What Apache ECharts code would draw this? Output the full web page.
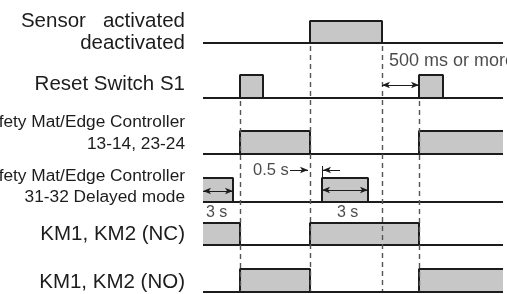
<!DOCTYPE html>
<html>
<head>
<meta charset="utf-8">
<script src="https://cdn.jsdelivr.net/npm/echarts@6/dist/echarts.min.js"></script>
<style>
  html, body { margin: 0; padding: 0; background: #fff; }
  #timing { width: 507px; height: 294px; }
</style>
</head>
<body>
<div id="timing"></div>
<script>
// time runs 0..300 (arbitrary units across the signal area)
var tEnd = 300;
var sensorOn = [[107, 179]];
var resetOn = [[37, 60], [216, 240]];
var ctrlOn = [[37, 107], [216, 300]];
var delayedOn = [[0, 30], [119, 165]];
var ncOn = [[0, 37], [107, 216]];
var noOn = [[37, 107], [216, 300]];
var edgeTimes = [37, 107, 179, 216];
var edgeFrom = ['reset', 'sensor', 'sensor', 'reset'];

// lane layout (baseline / high level on the vertical axis)
var lanes = {
    sensor: { base: 43, top: 21 },
    reset: { base: 98, top: 75 },
    ctrl: { base: 154, top: 131 },
    delayed: { base: 202, top: 178 },
    nc: { base: 245, top: 223 },
    no: { base: 292, top: 269 }
};

var ink = '#1c1c1c';
var fill = '#c7c7c7';
var fontFam = '"Liberation Sans", Arial, sans-serif';

function steps(on, lane) {
    var pts = [];
    if (on[0][0] > 0) pts.push([0, lane.base]);
    on.forEach(function (iv) {
        if (iv[0] > 0) pts.push([iv[0], lane.base]);
        pts.push([iv[0], lane.top]);
        pts.push([iv[1], lane.top]);
        if (iv[1] < tEnd) pts.push([iv[1], lane.base]);
    });
    if (on[on.length - 1][1] < tEnd) pts.push([tEnd, lane.base]);
    return pts;
}

function laneSeries(on, lane) {
    return [{
        type: 'line',
        data: steps(on, lane),
        symbol: 'none',
        clip: false,
        lineStyle: { color: ink, width: 2 },
        areaStyle: { color: fill, opacity: 1, origin: lane.base },
        z: 2
    }, {
        type: 'line',
        data: [[0, lane.base], [tEnd, lane.base]],
        symbol: 'none',
        clip: false,
        lineStyle: { color: ink, width: 2 },
        z: 3
    }];
}

var series = [];
[[sensorOn, 'sensor'], [resetOn, 'reset'], [ctrlOn, 'ctrl'], [delayedOn, 'delayed'], [ncOn, 'nc'], [noOn, 'no']]
    .forEach(function (r) { series = series.concat(laneSeries(r[0], lanes[r[1]])); });

// dashed guide lines
series.push({
    type: 'line',
    data: [],
    markLine: {
        silent: true,
        symbol: ['none', 'none'],
        label: { show: false },
        lineStyle: { color: '#555', width: 1.4, type: [5, 4] },
        data: edgeTimes.map(function (t, i) {
            return [{ coord: [t, lanes[edgeFrom[i]].base + 3] }, { coord: [t, lanes.no.base - 1] }];
        })
    },
    z: 4
});

// dimension arrows
var arrowLine = { color: ink, width: 1, type: 'solid' };
series.push({
    type: 'line',
    data: [],
    markLine: {
        silent: true,
        symbol: ['arrow', 'arrow'],
        symbolSize: [5, 8],
        label: { show: false },
        lineStyle: arrowLine,
        data: [
            [{ coord: [179, 85] }, { coord: [216, 85] }],
            [{ coord: [0, 191] }, { coord: [30, 191] }],
            [{ coord: [119, 190] }, { coord: [165, 190] }],
            [{ coord: [87, 170], symbol: 'none' }, { coord: [105, 170], symbol: 'arrow' }],
            [{ coord: [137, 170], symbol: 'none' }, { coord: [120, 170], symbol: 'arrow' }],
            [{ coord: [119, 166], symbol: 'none' }, { coord: [119, 202], symbol: 'none' }]
        ]
    },
    z: 5
});

// annotation texts
var notes = [
    { value: [186, 61], name: '500 ms or more', size: 18 },
    { value: [50, 170], name: '0.5 s', size: 16.5 },
    { value: [3, 213], name: '3 s', size: 16 },
    { value: [134, 213], name: '3 s', size: 16 }
];
series.push({
    type: 'scatter',
    symbolSize: 0,
    clip: false,
    data: notes.map(function (n) {
        return {
            value: n.value,
            label: {
                show: true, position: 'right', distance: 0,
                formatter: n.name, color: ink, fontSize: n.size, fontFamily: fontFam
            }
        };
    }),
    z: 6
});

// lane names
var laneNames = [
    ['Sensor   activated', 21, 20.5],
    ['deactivated', 43, 20.5],
    ['Reset Switch S1', 84, 20.5],
    ['Safety Mat/Edge Controller', 122, 17.3],
    ['13-14, 23-24', 144, 17.3],
    ['Safety Mat/Edge Controller', 176, 17.3],
    ['31-32 Delayed mode', 197, 17.3],
    ['KM1, KM2 (NC)', 234, 20.5],
    ['KM1, KM2 (NO)', 282, 20.5]
];

var myChart = echarts.init(document.getElementById('timing'), null, { renderer: 'canvas' });
myChart.setOption({
    animation: false,
    grid: { left: 203, right: 4, top: 0, bottom: 0 },
    xAxis: { type: 'value', min: 0, max: tEnd, show: false },
    yAxis: { type: 'value', min: 0, max: 294, inverse: true, show: false },
    graphic: laneNames.map(function (l) {
        return {
            type: 'text',
            x: 185,
            y: l[1],
            style: {
                text: l[0],
                textAlign: 'right',
                textVerticalAlign: 'middle',
                align: 'right',
                verticalAlign: 'middle',
                fontSize: l[2],
                fontFamily: fontFam,
                fill: ink
            }
        };
    }),
    series: series
});
</script>
</body>
</html>
